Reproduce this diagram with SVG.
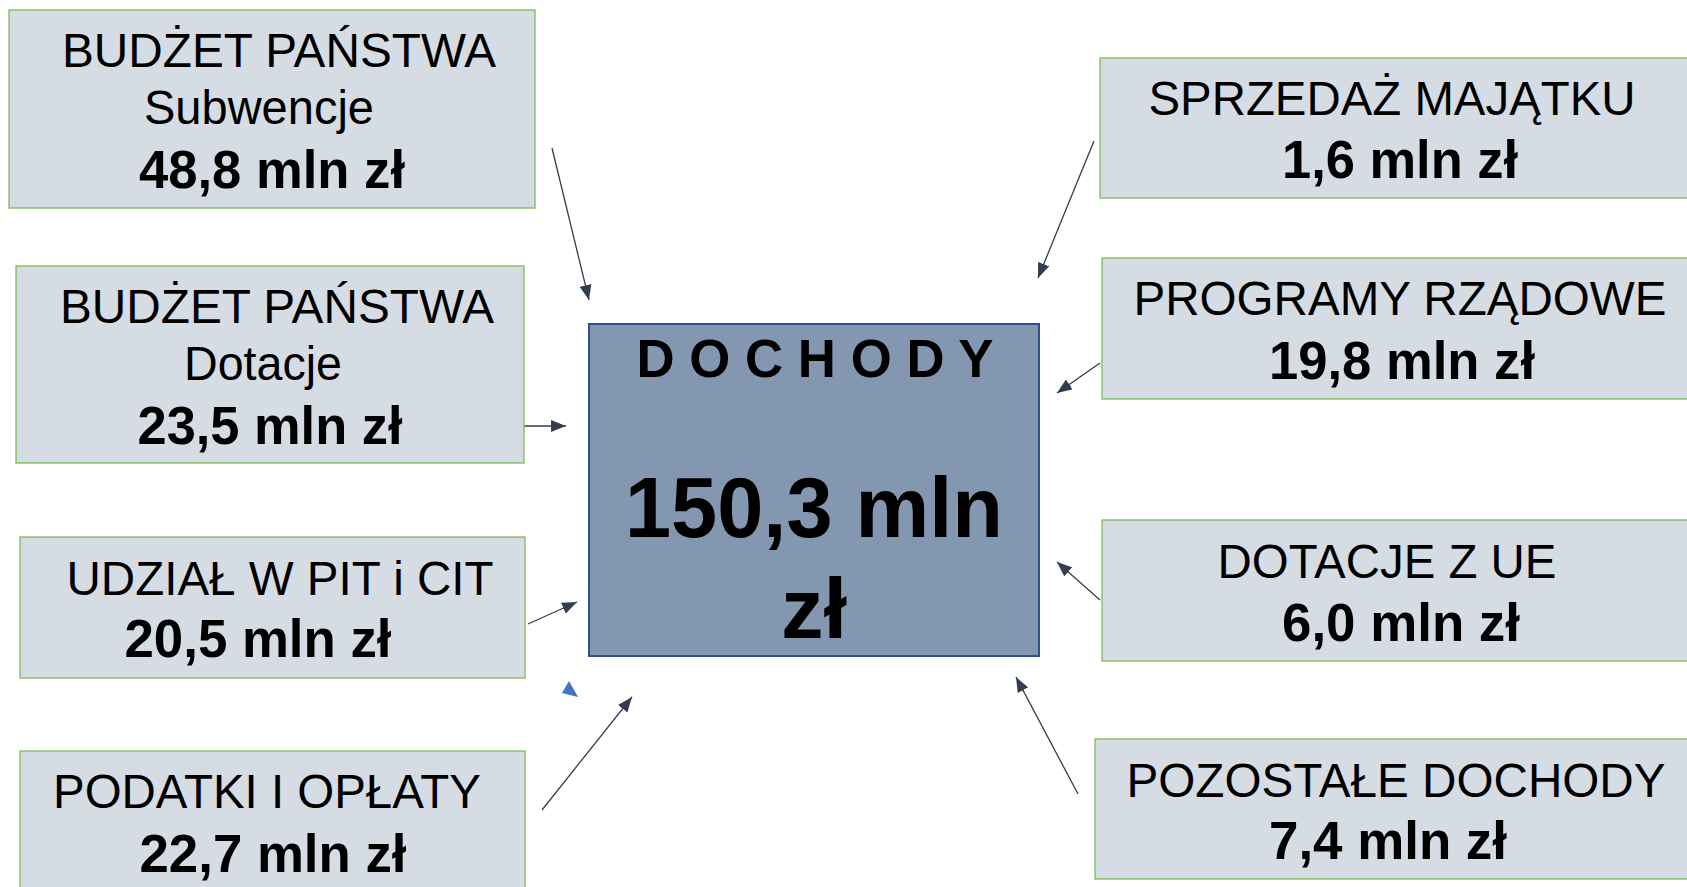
<svg xmlns="http://www.w3.org/2000/svg" width="1687" height="887" viewBox="0 0 1687 887">
<style>
.box{fill:#d6dce4;stroke:#7fba5a;stroke-width:1.3}
.t{font-family:"Liberation Sans",Arial,sans-serif;font-size:48px;fill:#000;text-anchor:middle}
.b{font-family:"Liberation Sans",Arial,sans-serif;font-size:53px;font-weight:bold;fill:#000;text-anchor:middle}
.con{stroke:#323e50;stroke-width:1.3;fill:none;marker-end:url(#ah)}
</style>
<defs>
<marker id="ah" viewBox="0 0 15 12" refX="15" refY="6" markerWidth="15" markerHeight="12" markerUnits="userSpaceOnUse" orient="auto">
<path d="M0,0 L15,6 L0,12 z" fill="#323e50"/>
</marker>
</defs>
<rect width="1687" height="887" fill="#fff"/>
<g id="connectors">
<line class="con" x1="552" y1="148" x2="589" y2="300"/>
<line class="con" x1="518" y1="426" x2="566" y2="426"/>
<line class="con" x1="528" y1="624" x2="577" y2="602"/>
<line class="con" x1="542" y1="810" x2="632" y2="697"/>
<line class="con" x1="1094" y1="141" x2="1038" y2="278"/>
<line class="con" x1="1100" y1="363" x2="1057" y2="393"/>
<line class="con" x1="1100" y1="600" x2="1057" y2="562"/>
<line class="con" x1="1078" y1="794" x2="1016" y2="677"/>
<path d="M569,681 L562,693 L578,697 z" fill="#4472c4"/>
</g>
<g id="center">
<rect x="589" y="324" width="450" height="332" fill="#8497b0" stroke="#2f528f" stroke-width="2"/>
<text class="b" x="815" y="377" textLength="357" lengthAdjust="spacingAndGlyphs">D O C H O D Y</text>
<text class="b" x="814" y="537" style="font-size:85px" textLength="378" lengthAdjust="spacingAndGlyphs">150,3 mln</text>
<text class="b" x="814" y="638" style="font-size:85px">zł</text>
</g>
<g id="n1">
<rect class="box" x="9" y="10" width="526" height="198"/>
<text class="t" x="279" y="67" textLength="434" lengthAdjust="spacingAndGlyphs">BUDŻET PAŃSTWA</text>
<text class="t" x="259" y="124" textLength="230" lengthAdjust="spacingAndGlyphs">Subwencje</text>
<text class="b" x="272" y="188" textLength="266" lengthAdjust="spacingAndGlyphs">48,8 mln zł</text>
</g>
<g id="n2">
<rect class="box" x="16" y="266" width="508" height="197"/>
<text class="t" x="277" y="323" textLength="434" lengthAdjust="spacingAndGlyphs">BUDŻET PAŃSTWA</text>
<text class="t" x="263" y="380" textLength="158" lengthAdjust="spacingAndGlyphs">Dotacje</text>
<text class="b" x="270" y="444" textLength="265" lengthAdjust="spacingAndGlyphs">23,5 mln zł</text>
</g>
<g id="n3">
<rect class="box" x="20" y="537" width="505" height="141"/>
<text class="t" x="280" y="595" textLength="427" lengthAdjust="spacingAndGlyphs">UDZIAŁ W PIT i CIT</text>
<text class="b" x="258" y="657" textLength="267" lengthAdjust="spacingAndGlyphs">20,5 mln zł</text>
</g>
<g id="n4">
<rect class="box" x="20" y="751" width="505" height="150"/>
<text class="t" x="267" y="808" textLength="428" lengthAdjust="spacingAndGlyphs">PODATKI I OPŁATY</text>
<text class="b" x="273" y="872" textLength="267" lengthAdjust="spacingAndGlyphs">22,7 mln zł</text>
</g>
<g id="n5">
<rect class="box" x="1100" y="58" width="600" height="140"/>
<text class="t" x="1392" y="115" textLength="487" lengthAdjust="spacingAndGlyphs">SPRZEDAŻ MAJĄTKU</text>
<text class="b" x="1400" y="178" textLength="236" lengthAdjust="spacingAndGlyphs">1,6 mln zł</text>
</g>
<g id="n6">
<rect class="box" x="1102" y="258" width="600" height="141"/>
<text class="t" x="1400" y="315" textLength="533" lengthAdjust="spacingAndGlyphs">PROGRAMY RZĄDOWE</text>
<text class="b" x="1402" y="379" textLength="266" lengthAdjust="spacingAndGlyphs">19,8 mln zł</text>
</g>
<g id="n7">
<rect class="box" x="1102" y="520" width="600" height="141"/>
<text class="t" x="1387" y="578" textLength="339" lengthAdjust="spacingAndGlyphs">DOTACJE Z UE</text>
<text class="b" x="1401" y="641" textLength="238" lengthAdjust="spacingAndGlyphs">6,0 mln zł</text>
</g>
<g id="n8">
<rect class="box" x="1095" y="739" width="600" height="140"/>
<text class="t" x="1396" y="797" textLength="539" lengthAdjust="spacingAndGlyphs">POZOSTAŁE DOCHODY</text>
<text class="b" x="1388" y="859" textLength="238" lengthAdjust="spacingAndGlyphs">7,4 mln zł</text>
</g>
</svg>
